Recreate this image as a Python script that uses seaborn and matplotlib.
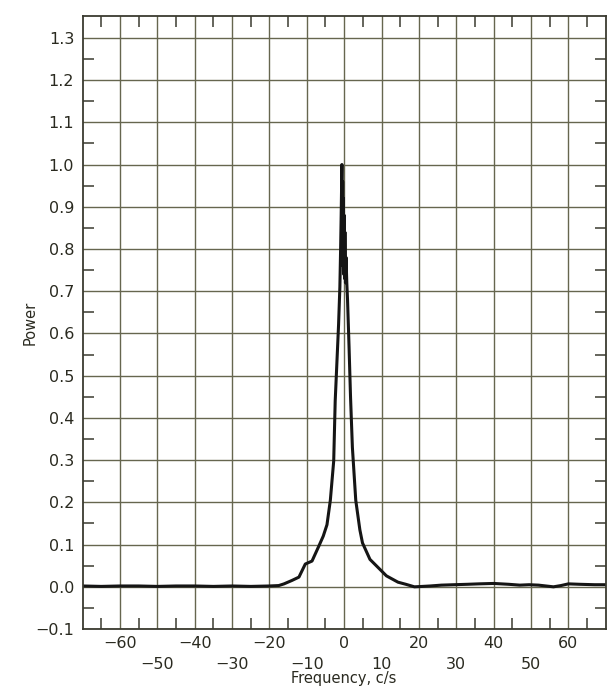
import matplotlib
matplotlib.use("Agg")
import matplotlib.pyplot as plt
import seaborn as sns
import pandas as pd
from matplotlib.ticker import MultipleLocator

# ---- data ----
freq = [-70, -65, -60, -55, -50, -45, -40, -35, -30, -25, -20, -17.5,
        -16.1, -14.0, -12.1, -10.4, -8.6, -6.8, -5.6, -4.6, -3.7, -2.8,
        -2.4, -2.0, -1.5, -1.15, -0.95, -0.8, -0.6, -0.5, -0.4, -0.3, -0.2,
        -0.1, 0.0, 0.1, 0.2, 0.35, 0.5, 0.7,
        0.9, 1.3, 1.7, 2.2, 3.1, 4.2, 4.9, 6.9, 9.5, 11.3, 14.4, 16.5,
        18.8, 21, 23, 26, 29.4, 33, 36, 40, 44, 47, 49.5, 52, 54, 56,
        58, 60, 63, 67, 70]
power = [0.002, 0.001, 0.002, 0.002, 0.001, 0.002, 0.002, 0.001, 0.002,
         0.001, 0.002, 0.003,
         0.007, 0.015, 0.023, 0.054, 0.061, 0.096, 0.12, 0.147, 0.205, 0.298,
         0.44, 0.52, 0.62, 0.71, 0.80, 0.88, 1.00, 0.80, 0.96, 0.76, 0.92,
         0.74, 0.88, 0.73, 0.84, 0.72, 0.78, 0.72,
         0.68, 0.57, 0.45, 0.33, 0.205, 0.135, 0.104, 0.065, 0.042, 0.026, 0.011, 0.006,
         0.0, 0.001, 0.002, 0.004, 0.005, 0.006, 0.007, 0.008, 0.006, 0.004,
         0.005, 0.004, 0.002, 0.0, 0.003, 0.007, 0.006, 0.005, 0.005]

xticks_major = [-60, -50, -40, -30, -20, -10, 0, 10, 20, 30, 40, 50, 60]
yticks_major = [-0.1, 0.0, 0.1, 0.2, 0.3, 0.4, 0.5, 0.6, 0.7, 0.8, 0.9, 1.0, 1.1, 1.2, 1.3]

df = pd.DataFrame({"freq": freq, "power": power})

sns.set_style("white")
plt.rcParams["font.family"] = ["DejaVu Sans"]

fig = plt.figure(figsize=(6.07, 6.89), dpi=100)
ax = fig.add_axes([0.136, 0.087, 0.862, 0.890])

grid_col = "#66664f"
text_col = "#2a2a20"
sns.lineplot(data=df, x="freq", y="power", ax=ax, color="#151515",
             linewidth=2.2, sort=False, estimator=None)

ax.set_xlim(-70, 70)
ax.set_ylim(-0.1, 1.352)

ax.set_xticks(xticks_major)
xlabels = []
for i, v in enumerate(xticks_major):
    s = f"{v}".replace("-", "\u2212")
    xlabels.append(s if i % 2 == 0 else "\n" + s)
ax.set_xticklabels(xlabels, fontsize=11.5, color=text_col, linespacing=1.5)
ax.set_yticks(yticks_major)
ax.set_yticklabels([f"{v:.1f}".replace("-", "\u2212") for v in yticks_major],
                   fontsize=11.5, color=text_col)

ax.set_xticks([v + 5 for v in range(-70, 70, 10)], minor=True)
ax.set_yticks([round(-0.05 + 0.1 * k, 2) for k in range(14)], minor=True)

ax.tick_params(which="major", length=0, pad=6)
ax.tick_params(which="minor", direction="in", length=8, width=1.1,
               color="#3a3a30", top=True, bottom=True, left=True, right=True)
ax.tick_params(axis="x", which="major", pad=5)

ax.grid(True, which="major", color=grid_col, linewidth=1.0)
ax.set_axisbelow(True)
for sp in ax.spines.values():
    sp.set_color("#3a3a30")
    sp.set_linewidth(1.3)

ax.set_xlabel("Frequency, c/s", fontsize=10.5, labelpad=-1, color=text_col)
ax.set_ylabel("Power", fontsize=10.5, labelpad=-2, color=text_col)

fig.savefig("out.png", dpi=100)
